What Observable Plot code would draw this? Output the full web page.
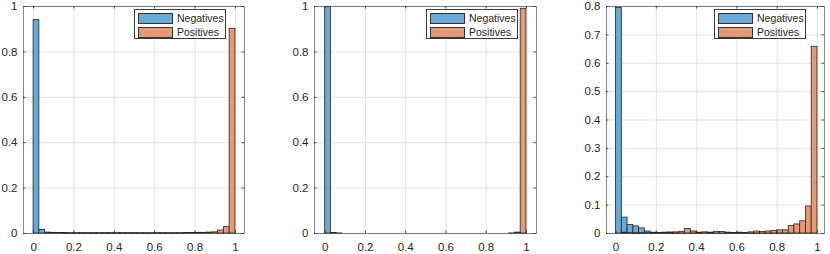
<!DOCTYPE html>
<html>
<head>
<meta charset="utf-8">
<script src="https://cdn.jsdelivr.net/npm/d3@7"></script>
<script src="https://cdn.jsdelivr.net/npm/@observablehq/plot@0.6"></script>
<style>
  html, body { margin: 0; padding: 0; background: #fff; }
  #root { position: relative; width: 830px; height: 254px; overflow: hidden; font-family: "Liberation Sans", Arial, sans-serif; }
  .panel { position: absolute; top: 0; }
  .legend { position: absolute; box-sizing: border-box; border: 1px solid #3a3a3a; background: #fff; height: 30px; }
  .legend .row { position: absolute; left: 3px; height: 11px; display: flex; align-items: center; }
  .legend .sw { width: 35px; height: 11px; box-sizing: border-box; border: 1px solid #333; }
  .legend .lab { margin-left: 4px; font-size: 10.5px; color: #262626; line-height: 11px; white-space: nowrap; }
</style>
</head>
<body>
<div id="root"></div>
<script>
// ---- data (35 bins on [0, 1]) ----
const seriesNames = ["Negatives", "Positives"];
const seriesColors = ["#0072BD", "#D95319"];
const nBins = 35;

const neg1 = [0.940, 0.016, 0.004, 0.003, 0.002, 0.002, 0.001, 0.001, 0.001, 0.001, 0.001, 0.001, 0.001, 0.001, 0.001, 0.001, 0.001, 0.001, 0.001, 0.0005, 0.0005, 0.0005, 0.0005, 0.0005, 0.0005, 0.0005, 0, 0, 0, 0, 0, 0, 0, 0, 0];
const pos1 = [0, 0, 0, 0, 0, 0.0005, 0.0005, 0.0005, 0.0005, 0.0005, 0.0005, 0.0005, 0.0005, 0.0005, 0.0005, 0.0005, 0.0005, 0.0005, 0.0005, 0.001, 0.001, 0.001, 0.001, 0.001, 0.001, 0.001, 0.002, 0.002, 0.003, 0.003, 0.004, 0.005, 0.013, 0.028, 0.902];

const neg2 = [0.997, 0.002, 0.0005, 0, 0, 0, 0, 0, 0, 0, 0, 0, 0, 0, 0, 0, 0, 0, 0, 0, 0, 0, 0, 0, 0, 0, 0, 0, 0, 0, 0, 0, 0, 0, 0];
const pos2 = [0, 0, 0, 0, 0, 0, 0, 0, 0, 0, 0, 0, 0, 0, 0, 0, 0, 0, 0, 0, 0, 0, 0, 0, 0, 0, 0, 0, 0, 0, 0, 0, 0.0005, 0.004, 0.990];

const neg3 = [0.795, 0.056, 0.030, 0.025, 0.018, 0.007, 0.003, 0.002, 0.002, 0.003, 0.002, 0.002, 0.002, 0.001, 0.001, 0.002, 0.002, 0.002, 0.003, 0.001, 0.001, 0.001, 0.001, 0.001, 0.001, 0.0005, 0.0005, 0.0005, 0.0005, 0.0005, 0, 0, 0, 0, 0];
const pos3 = [0, 0.003, 0.001, 0.001, 0.001, 0.001, 0.002, 0.002, 0.003, 0.003, 0.004, 0.006, 0.016, 0.007, 0.003, 0.004, 0.003, 0.006, 0.005, 0.003, 0.002, 0.003, 0.002, 0.004, 0.007, 0.005, 0.007, 0.009, 0.011, 0.011, 0.027, 0.032, 0.043, 0.095, 0.658];

const xTicks = [0, 0.2, 0.4, 0.6, 0.8, 1];
const yTicksA = [0, 0.2, 0.4, 0.6, 0.8, 1];
const yTicksB = [0, 0.1, 0.2, 0.3, 0.4, 0.5, 0.6, 0.7, 0.8];

// ---- layout ----
const panels = [
  {neg: neg1, pos: pos1, yMax: 1.0, yTicks: yTicksA, left: 0,   width: 270, mL: 23, mR: 26, xDom: [-0.05, 1.045]},
  {neg: neg2, pos: pos2, yMax: 1.0, yTicks: yTicksA, left: 290, width: 270, mL: 24, mR: 24, xDom: [-0.053, 1.05]},
  {neg: neg3, pos: pos3, yMax: 0.8, yTicks: yTicksB, left: 575, width: 255, mL: 31, mR: 6,  xDom: [-0.0475, 1.035]}
];

const edges = d3.range(nBins + 1).map(i => i / nBins);
const fillFor = c => { const k = d3.rgb(c); const a = 0.6; return d3.rgb(255*(1-a)+k.r*a, 255*(1-a)+k.g*a, 255*(1-a)+k.b*a).formatHex(); };
const fills = seriesColors.map(fillFor);

const root = document.getElementById("root");
const fmt = d3.format("~g");

panels.forEach(p => {
  const toBins = arr => arr.map((v, i) => ({x1: edges[i], x2: edges[i + 1], y: v}));
  const negB = toBins(p.neg), posB = toBins(p.pos);
  const tl = p.yMax * 0.011;   // inward tick length in y units
  const tlx = (p.xDom[1] - p.xDom[0]) * 0.011;
  const axisCol = "#262626";
  const plot = Plot.plot({
    width: p.width, height: 254,
    marginLeft: p.mL, marginRight: p.mR, marginTop: 6, marginBottom: 21,
    x: {domain: p.xDom, label: null},
    y: {domain: [0, p.yMax], label: null},
    style: {fontFamily: "'Liberation Sans', Arial, sans-serif", fontSize: "11.5px", color: "#262626", background: "transparent"},
    marks: [
      Plot.gridX(xTicks, {stroke: axisCol, strokeOpacity: 0.13, strokeWidth: 1}),
      Plot.gridY(p.yTicks, {stroke: axisCol, strokeOpacity: 0.13, strokeWidth: 1}),
      Plot.rectY(negB, {x1: "x1", x2: "x2", y: "y", fill: fills[0], stroke: "#262626", strokeWidth: 0.8}),
      Plot.rectY(posB, {x1: "x1", x2: "x2", y: "y", fill: fills[1], stroke: "#262626", strokeWidth: 0.8}),
      // inward ticks on all four sides
      Plot.ruleX(xTicks, {y1: 0, y2: tl, stroke: axisCol, strokeWidth: 0.8}),
      Plot.ruleX(xTicks, {y1: p.yMax - tl, y2: p.yMax, stroke: axisCol, strokeWidth: 0.8}),
      Plot.ruleY(p.yTicks, {x1: p.xDom[0], x2: p.xDom[0] + tlx, stroke: axisCol, strokeWidth: 0.8}),
      Plot.ruleY(p.yTicks, {x1: p.xDom[1] - tlx, x2: p.xDom[1], stroke: axisCol, strokeWidth: 0.8}),
      Plot.axisX(xTicks, {tickSize: 0, tickPadding: 9, tickFormat: fmt, fill: "#262626", fontSize: 11.5, label: null}),
      Plot.axisY(p.yTicks, {tickSize: 0, tickPadding: 6, tickFormat: fmt, fill: "#262626", fontSize: 11.5, label: null}),
      Plot.frame({stroke: "#262626", strokeOpacity: 0.55, strokeWidth: 1})
    ]
  });
  const wrap = document.createElement("div");
  wrap.className = "panel";
  wrap.style.left = p.left + "px";
  wrap.appendChild(plot);
  root.appendChild(wrap);

  // legend (top-right inside axes)
  const frameRight = p.left + p.width - p.mR;
  const lg = document.createElement("div");
  lg.className = "legend";
  lg.style.width = "92px";
  lg.style.left = (frameRight - 18 - 92) + "px";
  lg.style.top = "9px";
  seriesNames.forEach((name, i) => {
    const row = document.createElement("div");
    row.className = "row";
    row.style.top = (3 + i * 14) + "px";
    const sw = document.createElement("div");
    sw.className = "sw";
    sw.style.background = fills[i];
    const lab = document.createElement("span");
    lab.className = "lab";
    lab.textContent = name;
    row.appendChild(sw); row.appendChild(lab);
    lg.appendChild(row);
  });
  root.appendChild(lg);
});
</script>
</body>
</html>
